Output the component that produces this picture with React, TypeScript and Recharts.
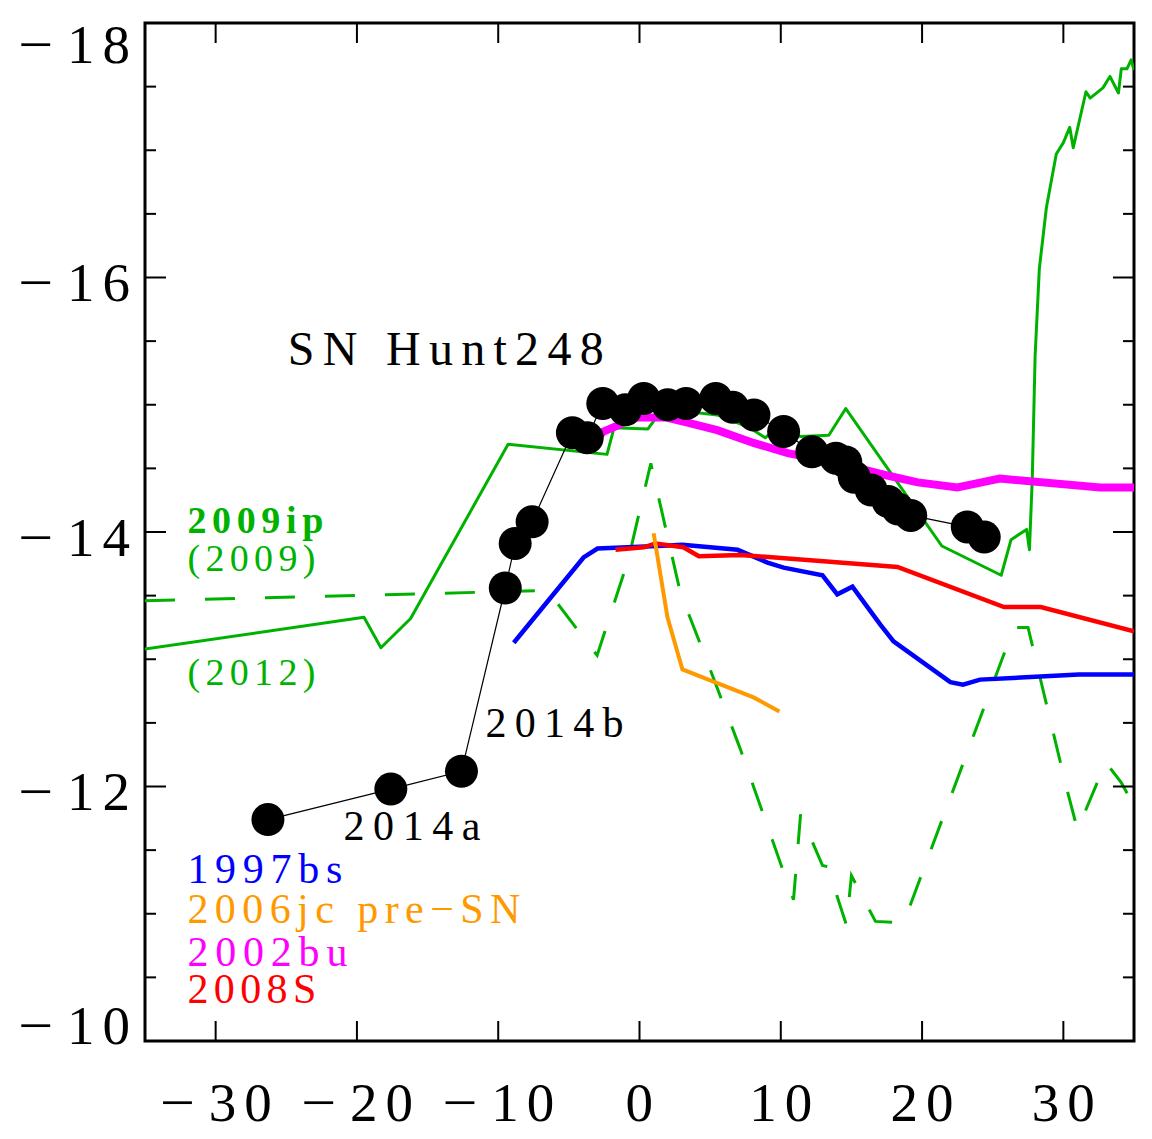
import { Line, LineChart, ReferenceArea, ReferenceDot, XAxis, YAxis } from "recharts"

// axes
const X_DOMAIN = [-35, 35]
const Y_DOMAIN = [-18, -10]
const X_TICKS = [-30, -20, -10, 0, 10, 20, 30]
const Y_TICKS = [-18, -17.5, -17, -16.5, -16, -15.5, -15, -14.5, -14, -13.5, -13, -12.5, -12, -11.5, -11, -10.5, -10]

type Pt = { x: number; y: number }
const pts = (rows: number[][]): Pt[] => rows.map(([x, y]) => ({ x, y }))

// light curves: [days, absolute mag]
const hunt248 = pts([
  [-26.3, -11.74], [-17.6, -11.98], [-12.6, -12.12], [-9.5, -13.56], [-8.8, -13.91], [-7.6, -14.08],
  [-4.75, -14.78], [-3.7, -14.74], [-2.6, -15.01], [-1.0, -14.96], [0.3, -15.05], [2.0, -15.0],
  [3.3, -15.01], [5.4, -15.05], [6.6, -14.98], [8.1, -14.92], [10.2, -14.79], [12.2, -14.63],
  [13.9, -14.58], [14.6, -14.55], [15.2, -14.43], [16.4, -14.33], [17.6, -14.24], [18.3, -14.18],
  [19.2, -14.13], [23.2, -14.04], [24.4, -13.96],
])

const sn2009ip2012 = pts([
  [-35, -13.08], [-19.5, -13.33], [-18.3, -13.09], [-16.2, -13.32], [-9.3, -14.69], [-2.3, -14.61],
  [-1.8, -14.82], [0.6, -14.81], [1.2, -14.9], [3.0, -14.95], [5.5, -14.92], [7.8, -14.82],
  [8.9, -14.74], [9.5, -14.8], [11.4, -14.75], [13.4, -14.76], [14.6, -14.97], [21.4, -13.89],
  [25.6, -13.66], [26.3, -13.94], [27.4, -14.02], [27.6, -13.86], [27.8, -14.42], [28.0, -15.38],
  [28.3, -16.07], [28.8, -16.55], [29.5, -16.97], [30.0, -17.06], [30.45, -17.18], [30.7, -17.02],
  [31.6, -17.46], [31.9, -17.41], [32.8, -17.49], [33.3, -17.58], [33.9, -17.45], [34.1, -17.64],
  [34.5, -17.64], [34.8, -17.71], [35, -17.63],
])

const sn2009ip2009 = pts([
  [-35, -13.46], [-6.5, -13.54], [-3.0, -13.03], [-0.8, -13.78], [0.8, -14.54], [2.9, -13.52],
  [4.9, -12.95], [7.15, -12.29], [10.0, -11.39], [10.9, -11.11], [11.4, -11.78], [12.95, -11.38],
  [13.3, -11.37], [14.65, -10.91], [15.0, -11.3], [16.7, -10.94], [18.7, -10.93], [26.5, -13.25],
  [27.5, -13.25], [30.2, -12.0], [31.0, -11.66], [33.0, -12.19], [34.1, -12.03], [35, -11.85],
])

const sn1997bs = pts([
  [-8.9, -13.13], [-3.96, -13.8], [-2.97, -13.87], [1.27, -13.89], [3.04, -13.9], [6.94, -13.86],
  [9.06, -13.76], [10.2, -13.72], [12.95, -13.66], [14.0, -13.51], [15.07, -13.57], [17.06, -13.27],
  [17.98, -13.14], [22.0, -12.82], [22.9, -12.8], [24.1, -12.84], [31.1, -12.88], [35, -12.88],
])

const sn2008S = pts([
  [-1.7, -13.86], [0.3, -13.88], [1.13, -13.91], [3.1, -13.88], [4.2, -13.81], [7.15, -13.82],
  [18.26, -13.725], [25.8, -13.41], [28.4, -13.41], [35, -13.22],
])

const sn2006jc = pts([
  [1.0, -13.99], [1.98, -13.33], [3.04, -12.92], [8.07, -12.7], [9.9, -12.59],
])

const sn2002bu = pts([
  [-3.26, -14.7], [-2.55, -14.79], [-1.49, -14.84], [-0.5, -14.9], [0.57, -14.9], [1.84, -14.9],
  [3.4, -14.86], [5.5, -14.8], [8.07, -14.7], [10.5, -14.62], [13.7, -14.55], [17.3, -14.45],
  [19.7, -14.39], [22.5, -14.35], [25.5, -14.42], [32.6, -14.35], [35, -14.35],
])

const GREEN = "#00b200"
const FONT = "'Liberation Serif', 'DejaVu Serif', serif"

// annotations, anchored at their left baseline in data coordinates
const notes = [
  { text: "SN Hunt248", x: -24.9, y: -15.31, color: "#000", size: 48, width: 316 },
  { text: "2009ip", x: -32.0, y: -13.99, color: GREEN, size: 38, width: 136, bold: true },
  { text: "(2009)", x: -32.0, y: -13.69, color: GREEN, size: 38, width: 128 },
  { text: "(2012)", x: -32.0, y: -12.8, color: GREEN, size: 38, width: 128 },
  { text: "2014b", x: -10.9, y: -12.39, color: "#000", size: 42, width: 138 },
  { text: "2014a", x: -20.95, y: -11.58, color: "#000", size: 42, width: 137 },
  { text: "1997bs", x: -32.0, y: -11.24, color: "#0000ff", size: 42, width: 155 },
  { text: "2006jc pre\u2212SN", x: -32.0, y: -10.93, color: "#ff9900", size: 42, width: 333 },
  { text: "2002bu", x: -32.0, y: -10.59, color: "#ff00ff", size: 42, width: 160 },
  { text: "2008S", x: -32.0, y: -10.3, color: "#ff0000", size: 42, width: 129 },
]

const W = 1152
const H = 1139
const MARGIN = { top: 23, right: 18, bottom: 0, left: 0 }
const PLOT_TOP = MARGIN.top
const PLOT_RIGHT = W - MARGIN.right
const TICK_FONT = 55

// a tick number drawn as a separate minus sign plus digits, digits ending at `right`
function TickNumber({ value, right, y }: { value: number; right: number; y: number }) {
  const digits = String(Math.abs(value))
  const dw = digits.length > 1 ? 63 : 27
  return (
    <g fontSize={TICK_FONT} fontFamily={FONT} fill="#000">
      <text x={right} y={y} textAnchor="end" textLength={digits.length > 1 ? dw : undefined} lengthAdjust="spacing">
        {digits}
      </text>
      {value < 0 && (
        <text x={right - dw - 14} y={y} textAnchor="end" textLength={35} lengthAdjust="spacingAndGlyphs">
          {"\u2212"}
        </text>
      )}
    </g>
  )
}

function XTick({ x, y, payload }: any) {
  const v = payload.value
  const digits = String(Math.abs(v))
  const dw = digits.length > 1 ? 63 : 27
  // the whole label (minus included) is centred on the tick
  const right = v < 0 ? x + (dw + 14 + 35) / 2 : x + dw / 2
  return (
    <g>
      <line x1={x} x2={x} y1={y} y2={y - 20} stroke="#000" strokeWidth={2} />
      <line x1={x} x2={x} y1={PLOT_TOP} y2={PLOT_TOP + 20} stroke="#000" strokeWidth={2} />
      <TickNumber value={v} right={right} y={y + 80} />
    </g>
  )
}

function YTick({ x, y, payload }: any) {
  const v = payload.value
  const major = v % 2 === 0
  const len = major ? 21 : 11
  const dy = v === Y_DOMAIN[0] ? 39.5 : v === Y_DOMAIN[1] ? 2.5 : 23.5
  return (
    <g>
      <line x1={x} x2={x + len} y1={y} y2={y} stroke="#000" strokeWidth={2} />
      <line x1={PLOT_RIGHT} x2={PLOT_RIGHT - len} y1={y} y2={y} stroke="#000" strokeWidth={2} />
      {major && <TickNumber value={v} right={x - 15} y={y + dy} />}
    </g>
  )
}

function noteLabel(n: (typeof notes)[number]) {
  return (props: any) => {
    const vb = props.viewBox || {}
    return (
      <text x={vb.x} y={vb.y} fill={n.color} fontSize={n.size} fontFamily={FONT}
        fontWeight={n.bold ? "bold" : "normal"} textLength={n.width} lengthAdjust="spacing">
        {n.text}
      </text>
    )
  }
}

export default function App() {
  return (
    <div style={{ position: "absolute", left: 0, top: 0, width: W, height: H, background: "#fff" }}>
      <LineChart width={W} height={H} margin={MARGIN}>
        <XAxis type="number" dataKey="x" domain={X_DOMAIN} ticks={X_TICKS} interval={0} height={98}
          tickSize={0} tickMargin={0} axisLine={false} tickLine={false} tick={XTick} allowDataOverflow />
        <YAxis type="number" dataKey="y" domain={Y_DOMAIN} ticks={Y_TICKS} interval={0} width={145} reversed
          tickSize={0} tickMargin={0} axisLine={false} tickLine={false} tick={YTick} allowDataOverflow />

        <Line data={sn2009ip2012} dataKey="y" type="linear" stroke={GREEN} strokeWidth={3} dot={false}
          isAnimationActive={false} strokeLinejoin="round" />
        <Line data={sn2009ip2009} dataKey="y" type="linear" stroke={GREEN} strokeWidth={3} strokeDasharray="30 30"
          dot={false} isAnimationActive={false} />
        <Line data={sn1997bs} dataKey="y" type="linear" stroke="#0000ff" strokeWidth={4.5} dot={false}
          isAnimationActive={false} />
        <Line data={sn2008S} dataKey="y" type="linear" stroke="#ff0000" strokeWidth={4.5} dot={false}
          isAnimationActive={false} />
        <Line data={sn2006jc} dataKey="y" type="linear" stroke="#ff9900" strokeWidth={4} dot={false}
          isAnimationActive={false} />
        <Line data={hunt248} dataKey="y" type="linear" stroke="#000" strokeWidth={1.2}
          dot={{ r: 16.5, fill: "#000", stroke: "none", strokeWidth: 0 }} isAnimationActive={false} />
        <Line data={sn2002bu} dataKey="y" type="linear" stroke="#ff00ff" strokeWidth={8} dot={false}
          isAnimationActive={false} />

        <ReferenceArea x1={X_DOMAIN[0]} x2={X_DOMAIN[1]} y1={Y_DOMAIN[0]} y2={Y_DOMAIN[1]}
          fill="none" fillOpacity={0} stroke="#000" strokeWidth={3} />

        {notes.map((n) => (
          <ReferenceDot key={n.text} x={n.x} y={n.y} r={0} fill="none" stroke="none"
            label={{ content: noteLabel(n) }} />
        ))}
      </LineChart>
    </div>
  )
}
